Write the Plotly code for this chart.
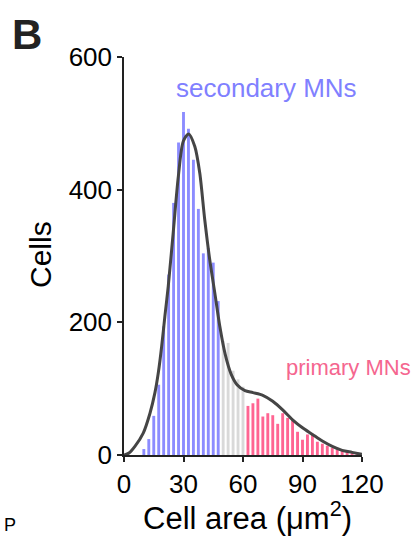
import plotly.graph_objects as go

# Data
blue_x = [10, 12.5, 15, 17.5, 20, 22.5, 25, 27.5, 30, 32.5, 35, 37.5, 40, 42.5, 45, 47.5]
blue_y = [9, 24, 59, 106, 194, 272, 380, 471, 517, 492, 445, 371, 304, 312, 290, 232]
gray_x = [50, 52.5, 55, 57.5, 60]
gray_y = [172, 169, 127, 114, 103]
pink_x = [62.5, 65, 67.5, 70, 72.5, 75, 77.5, 80, 82.5, 85, 87.5, 90, 92.5, 95,
          97.5, 100, 102.5, 105, 107.5, 110, 112.5, 115, 117.5]
pink_y = [74, 78, 85, 58, 63, 60, 47, 63, 56, 52, 35, 23, 31, 32,
          20, 17, 14, 10.5, 8, 7, 5.5, 4, 3]
curve_x = [0, 2.5, 5.5, 9.7, 13.1, 15.6, 17.3, 19, 20.6, 22.3, 24.8, 27.4, 29.9, 32.6,
           35.7, 38.2, 40.7, 43.2, 45.8, 48.3, 51, 54, 57, 61, 65, 70, 75, 80,
           85, 90, 95, 100, 105, 110, 115, 120]
curve_y = [0, 3, 13, 33, 63, 94, 124, 164, 209, 254, 335, 420, 473, 484,
           465, 425, 355, 295, 244, 194, 152, 122, 106, 97, 94, 90, 81, 68,
           53, 41, 31, 21, 13, 7, 4, 1]
x_ticks = [0, 30, 60, 90, 120]
y_ticks = [0, 200, 400, 600]

FONT = "Liberation Sans, Arial, Helvetica, sans-serif"
BAR_W = 1.45

fig = go.Figure()
fig.add_trace(go.Bar(x=blue_x, y=blue_y, width=BAR_W, marker=dict(color="#8c8cff", line_width=0)))
fig.add_trace(go.Bar(x=gray_x, y=gray_y, width=BAR_W, marker=dict(color="#d9d9d9", line_width=0)))
fig.add_trace(go.Bar(x=pink_x, y=pink_y, width=BAR_W, marker=dict(color="#ff6592", line_width=0)))
fig.add_trace(go.Scatter(x=curve_x, y=curve_y, mode="lines",
                         line=dict(color="#454545", width=3, shape="spline", smoothing=0.8)))

fig.update_layout(
    width=411, height=541,
    margin=dict(l=124, r=49, t=57, b=86),
    paper_bgcolor="white", plot_bgcolor="white",
    showlegend=False, barmode="overlay",
    font=dict(family=FONT, color="black"),
    xaxis=dict(range=[0, 120], tickvals=x_ticks, showgrid=False, zeroline=False,
               showline=True, linecolor="#222", linewidth=1.5,
               ticks="outside", ticklen=5, tickwidth=1.5, tickcolor="#222",
               tickfont=dict(size=26, family=FONT)),
    yaxis=dict(range=[0, 600], tickvals=y_ticks, showgrid=False, zeroline=False,
               showline=True, linecolor="#222", linewidth=1.5,
               ticks="outside", ticklen=5, tickwidth=1.5, tickcolor="#222",
               tickfont=dict(size=26, family=FONT)),
    annotations=[
        dict(text="<b>B</b>", x=10, y=9, xref="paper", yref="paper", showarrow=False,
             font=dict(size=42, family=FONT, color="#222"), xanchor="left", yanchor="top"),
        dict(text="secondary MNs", x=266, y=88, xref="paper", yref="paper", showarrow=False,
             font=dict(size=26, family=FONT, color="#8080ff"), xanchor="center", yanchor="middle"),
        dict(text="primary MNs", x=348, y=367, xref="paper", yref="paper", showarrow=False,
             font=dict(size=22, family=FONT, color="#f5668f"), xanchor="center", yanchor="middle"),
        dict(text="Cells", x=40, y=255, xref="paper", yref="paper", showarrow=False, textangle=-90,
             font=dict(size=30, family=FONT), xanchor="center", yanchor="middle"),
        dict(text="Cell area (μm<sup>2</sup>)", x=247, y=516, xref="paper", yref="paper",
             showarrow=False, font=dict(size=31, family=FONT), xanchor="center", yanchor="middle"),
        dict(text="P", x=10, y=525, xref="paper", yref="paper", showarrow=False,
             font=dict(size=18, family=FONT), xanchor="center", yanchor="middle"),
    ],
)

# convert pixel-based annotation coords to paper coords
pw, ph = 411 - 124 - 49, 541 - 57 - 86
for a in fig.layout.annotations:
    px, py = a.x, a.y
    a.x = (px - 124) / pw
    a.y = 1 - (py - 57) / ph

fig.write_html("out.html")
